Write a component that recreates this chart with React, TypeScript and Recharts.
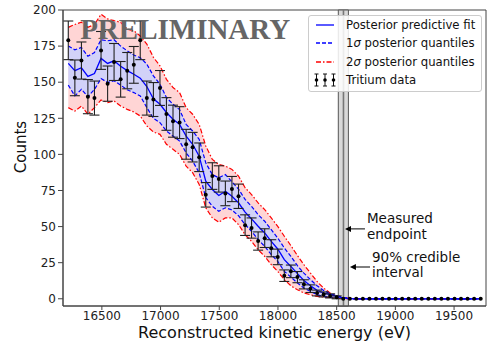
import {
  ComposedChart,
  Area,
  Line,
  XAxis,
  YAxis,
  ReferenceArea,
  ReferenceLine,
  ReferenceDot,
  ErrorBar,
  Legend,
} from "recharts";

// bin centres (eV)
const energy = [
  16214, 16270, 16326, 16381, 16437, 16493, 16549, 16604, 16660, 16716,
  16772, 16827, 16883, 16939, 16995, 17050, 17106, 17162, 17218, 17273,
  17329, 17385, 17441, 17496, 17552, 17608, 17664, 17720, 17775, 17831,
  17887, 17943, 17998, 18054, 18110, 18166, 18221, 18277, 18333, 18389,
  18444, 18500, 18556, 18612, 18667, 18723, 18779, 18835, 18890, 18946,
  19002, 19058, 19113, 19169, 19225, 19281, 19336, 19392, 19448, 19504,
  19559, 19615, 19671, 19727,
];

// tritium data counts
const counts = [
  179, 153, 165, 140, 139, 172, 149, 164, 152, 158,
  162, 179, 139, 138, 146, 128, 123, 122, 107, 105,
  98, 72, 85, 83, 73, 76, 71, 51, 49, 40,
  42, 35, 29, 16, 19, 15, 10, 7, 4, 3,
  2, 1, 0, 0, 0, 0, 0, 0, 0, 0,
  0, 0, 0, 0, 0, 0, 0, 0, 0, 0,
  0, 0, 0, 0,
];

const fit = [
  163, 158, 160, 154, 156, 166.5, 163, 164.8, 161, 158,
  155.5, 152.8, 147, 138.5, 134.7, 129, 124.3, 120.8, 112.7, 107,
  98.8, 81.5, 75.7, 71.5, 74.5, 71, 66.5, 60, 55.3, 50.2,
  45.6, 39.8, 34.5, 27.1, 22.4, 17.4, 12.7, 9, 5.8, 4,
  2.8, 1.6, 0.6, 0.1, 0, 0, 0, 0, 0, 0,
  0, 0, 0, 0, 0, 0, 0, 0, 0, 0,
  0, 0, 0, 0,
];

const hi1 = [
  175, 172.4, 174, 168, 170.6, 179.4, 178.7, 179.4, 175, 171.7,
  168.8, 167, 162.5, 154.4, 148.6, 139.4, 134.7, 131, 120.8, 116.2,
  110.4, 94.2, 86, 83.8, 86, 81, 76, 68.8, 64, 58.3,
  53.7, 47.9, 42.1, 35.2, 29.4, 22.9, 17.8, 13.2, 9, 5.8,
  3.5, 2.1, 1, 0.3, 0, 0, 0, 0, 0, 0,
  0, 0, 0, 0, 0, 0, 0, 0, 0, 0,
  0, 0, 0, 0,
];

const lo1 = [
  148, 140.5, 145, 140, 145, 152.5, 149.8, 151, 148, 144.7,
  142.8, 140.5, 132.4, 125, 122, 116.2, 112.7, 109.2, 101, 95.3,
  87.3, 70, 64.1, 60.6, 63, 61.5, 57.5, 51.4, 46.7, 41,
  36.3, 30.6, 25.9, 19, 15, 10.9, 7.4, 5.1, 2.8, 1.6,
  1.2, 0.9, 0.3, 0, 0, 0, 0, 0, 0, 0,
  0, 0, 0, 0, 0, 0, 0, 0, 0, 0,
  0, 0, 0, 0,
];

const hi2 = [
  188, 190, 191.5, 188, 190, 197, 193.8, 192.6, 191.5, 186.8,
  185.6, 182, 176.4, 167.2, 161.3, 152, 146.3, 142.8, 132.4, 127.8,
  120.8, 105.8, 96.5, 93, 91.9, 89.6, 85, 76.9, 72.2, 66.4,
  61.8, 56, 50.2, 43.3, 36.8, 29.9, 23.6, 17.8, 12, 7.4,
  4, 2.1, 1, 0.3, 0, 0, 0, 0, 0, 0,
  0, 0, 0, 0, 0, 0, 0, 0, 0, 0,
  0, 0, 0, 0,
];

const lo2 = [
  132.4, 130, 133.5, 127.8, 132.4, 137.7, 135.9, 137, 133.5, 131.2,
  129.4, 126.6, 119.7, 115.5, 113.9, 107, 103.5, 100, 91.9, 87.3,
  79.2, 63, 56, 53, 56, 56, 51.4, 44.4, 39.8, 34,
  29.4, 23.6, 19, 13.2, 9, 6.3, 4, 2.8, 1.6, 1.2,
  0.9, 0.5, 0.2, 0, 0, 0, 0, 0, 0, 0,
  0, 0, 0, 0, 0, 0, 0, 0, 0, 0,
  0, 0, 0, 0,
];

const xTicks = [16500, 17000, 17500, 18000, 18500, 19000, 19500];
const yTicks = [0, 25, 50, 75, 100, 125, 150, 175, 200];
const xDomain = [16169, 19772];
const yDomain = [-5, 200];

const endpoint = 18558;
const credible = [18514, 18600];

const FONT = "DejaVu Sans";

const chartData = energy.map((e, i) => ({
  energy: e,
  counts: counts[i],
  err: Math.sqrt(counts[i]),
  fit: fit[i],
  lo1: lo1[i],
  hi1: hi1[i],
  lo2: lo2[i],
  hi2: hi2[i],
  band1: [lo1[i], hi1[i]],
  band2: [lo2[i], hi2[i]],
}));

const makeArrow = (lines: string[], lineDy: number[]) => (props: any) => {
  const { x1, y1, x2, y2 } = props;
  return (
    <g>
      <line x1={x1} y1={y1} x2={x2 + 5} y2={y2} stroke="#000" strokeWidth={1} />
      <polygon
        points={`${x2},${y2} ${x2 + 6},${y2 - 3} ${x2 + 6},${y2 + 3}`}
        fill="#000"
      />
      {lines.map((t, i) => (
        <text
          key={t}
          x={x1 + 2}
          y={y1 + lineDy[i]}
          fontFamily={FONT}
          fontSize={13.5}
          fill="#111"
        >
          {t}
        </text>
      ))}
    </g>
  );
};

const LegendBox = () => {
  const rows = [
    {
      key: "fit",
      label: <>Posterior predictive fit</>,
      sample: <line x1={1} y1={7} x2={19} y2={7} stroke="#0000ff" strokeWidth={1.3} />,
    },
    {
      key: "q1",
      label: (
        <>
          1<i>σ</i> posterior quantiles
        </>
      ),
      sample: (
        <line x1={1} y1={7} x2={19} y2={7} stroke="#0000ff" strokeWidth={1.3} strokeDasharray="4 2" />
      ),
    },
    {
      key: "q2",
      label: (
        <>
          2<i>σ</i> posterior quantiles
        </>
      ),
      sample: (
        <line x1={1} y1={7} x2={19} y2={7} stroke="#ff0000" strokeWidth={1.3} strokeDasharray="5 2 1.5 2" />
      ),
    },
    {
      key: "data",
      label: <>Tritium data</>,
      sample: (
        <g stroke="#111" strokeWidth={1}>
          {[1.5, 10, 18.5].map((cx) => (
            <g key={cx}>
              <line x1={cx} y1={1} x2={cx} y2={13} />
              <line x1={cx - 2} y1={1} x2={cx + 2} y2={1} />
              <line x1={cx - 2} y1={13} x2={cx + 2} y2={13} />
              <circle cx={cx} cy={7} r={1.8} fill="#000" stroke="none" />
            </g>
          ))}
        </g>
      ),
    },
  ];
  return (
    <div
      style={{
        width: 174,
        height: 77,
        boxSizing: "border-box",
        border: "1px solid #cccccc",
        borderRadius: 3,
        background: "rgba(255,255,255,0.85)",
        position: "relative",
        fontFamily: FONT,
        fontSize: 11.7,
        color: "#111",
      }}
    >
      {rows.map((r, i) => (
        <div
          key={r.key}
          style={{
            position: "absolute",
            left: 6,
            top: 2 + i * 18.3,
            height: 14,
            display: "flex",
            alignItems: "center",
            whiteSpace: "nowrap",
          }}
        >
          <svg width={20} height={14} style={{ overflow: "visible" }}>
            {r.sample}
          </svg>
          <span style={{ marginLeft: 11 }}>{r.label}</span>
        </div>
      ))}
    </div>
  );
};

export default function App() {
  return (
    <div style={{ width: 489, height: 343, background: "#fff" }}>
      <style>{"body{margin:0}"}</style>
      <ComposedChart
        width={489}
        height={343}
        data={chartData}
        margin={{ top: 10, right: 3, bottom: 0, left: 0 }}
      >
        <XAxis
          dataKey="energy"
          type="number"
          domain={xDomain}
          ticks={xTicks}
          allowDataOverflow
          height={37}
          tickSize={4}
          tickMargin={1}
          tick={{ fontSize: 12, fill: "#222", fontFamily: FONT }}
          stroke="#444"
          label={(p: any) => (
            <text
              x={p.viewBox.x + p.viewBox.width / 2}
              y={338}
              textAnchor="middle"
              fontFamily={FONT}
              fontSize={16}
              fill="#111"
            >
              Reconstructed kinetic energy (eV)
            </text>
          )}
        />
        <YAxis
          type="number"
          domain={yDomain}
          ticks={yTicks}
          allowDataOverflow
          width={63}
          tickSize={5}
          tickMargin={2}
          tick={{ fontSize: 12, fill: "#222", fontFamily: FONT }}
          stroke="#444"
          label={() => (
            <text
              x={26}
              y={147}
              transform="rotate(-90 26 147)"
              textAnchor="middle"
              fontFamily={FONT}
              fontSize={15}
              fill="#111"
            >
              Counts
            </text>
          )}
        />
        <ReferenceArea
          x1={xDomain[0]}
          x2={xDomain[1]}
          y1={yDomain[0]}
          y2={yDomain[1]}
          fill="none"
          stroke="#444"
          strokeWidth={1}
        />
        <Area
          dataKey="band2"
          type="linear"
          stroke="none"
          fill="#ffd5d5"
          fillOpacity={1}
          isAnimationActive={false}
        />
        <Area
          dataKey="band1"
          type="linear"
          stroke="none"
          fill="#d2d2f8"
          fillOpacity={1}
          isAnimationActive={false}
        />
        <Line dataKey="lo2" stroke="#ff0000" strokeWidth={1.2} strokeDasharray="5 2 1.5 2" dot={false} activeDot={false} isAnimationActive={false} />
        <Line dataKey="hi2" stroke="#ff0000" strokeWidth={1.2} strokeDasharray="5 2 1.5 2" dot={false} activeDot={false} isAnimationActive={false} />
        <Line dataKey="lo1" stroke="#0000ff" strokeWidth={1.2} strokeDasharray="4 2" dot={false} activeDot={false} isAnimationActive={false} />
        <Line dataKey="hi1" stroke="#0000ff" strokeWidth={1.2} strokeDasharray="4 2" dot={false} activeDot={false} isAnimationActive={false} />
        <Line dataKey="fit" stroke="#0000ff" strokeWidth={1.3} dot={false} activeDot={false} isAnimationActive={false} />
        <ReferenceArea
          x1={credible[0]}
          x2={credible[1]}
          y1={yDomain[0]}
          y2={yDomain[1]}
          fill="#d9d9d9"
          fillOpacity={1}
          stroke="#555"
          strokeWidth={1}
        />
        <ReferenceLine x={endpoint} stroke="#777" strokeWidth={1.6} />
        <Line
          dataKey="counts"
          stroke="none"
          dot={{ r: 2, fill: "#000", stroke: "none" }}
          activeDot={false}
          isAnimationActive={false}
        >
          <ErrorBar dataKey="err" direction="y" width={5} stroke="#222" strokeWidth={1.1} />
        </Line>
        <ReferenceLine
          segment={[
            { x: 18741, y: 48.4 },
            { x: 18571, y: 48.4 },
          ]}
          shape={makeArrow(["Measured", "endpoint"], [-6, 10])}
        />
        <ReferenceLine
          segment={[
            { x: 18784, y: 22 },
            { x: 18613, y: 22 },
          ]}
          shape={makeArrow(["90% credible", "interval"], [-5.5, 10])}
        />
        <ReferenceDot
          x={16315}
          y={180}
          r={0}
          shape={(p: any) => (
            <text
              x={p.cx}
              y={p.cy}
              fontFamily="Liberation Serif"
              fontWeight="bold"
              fontSize={29}
              fill="#666"
            >
              PRELIMINARY
            </text>
          )}
        />
        <Legend
          layout="vertical"
          align="center"
          verticalAlign="middle"
          wrapperStyle={{ left: 308, top: 15, width: 174, height: 77 }}
          content={() => <LegendBox />}
        />
      </ComposedChart>
    </div>
  );
}
